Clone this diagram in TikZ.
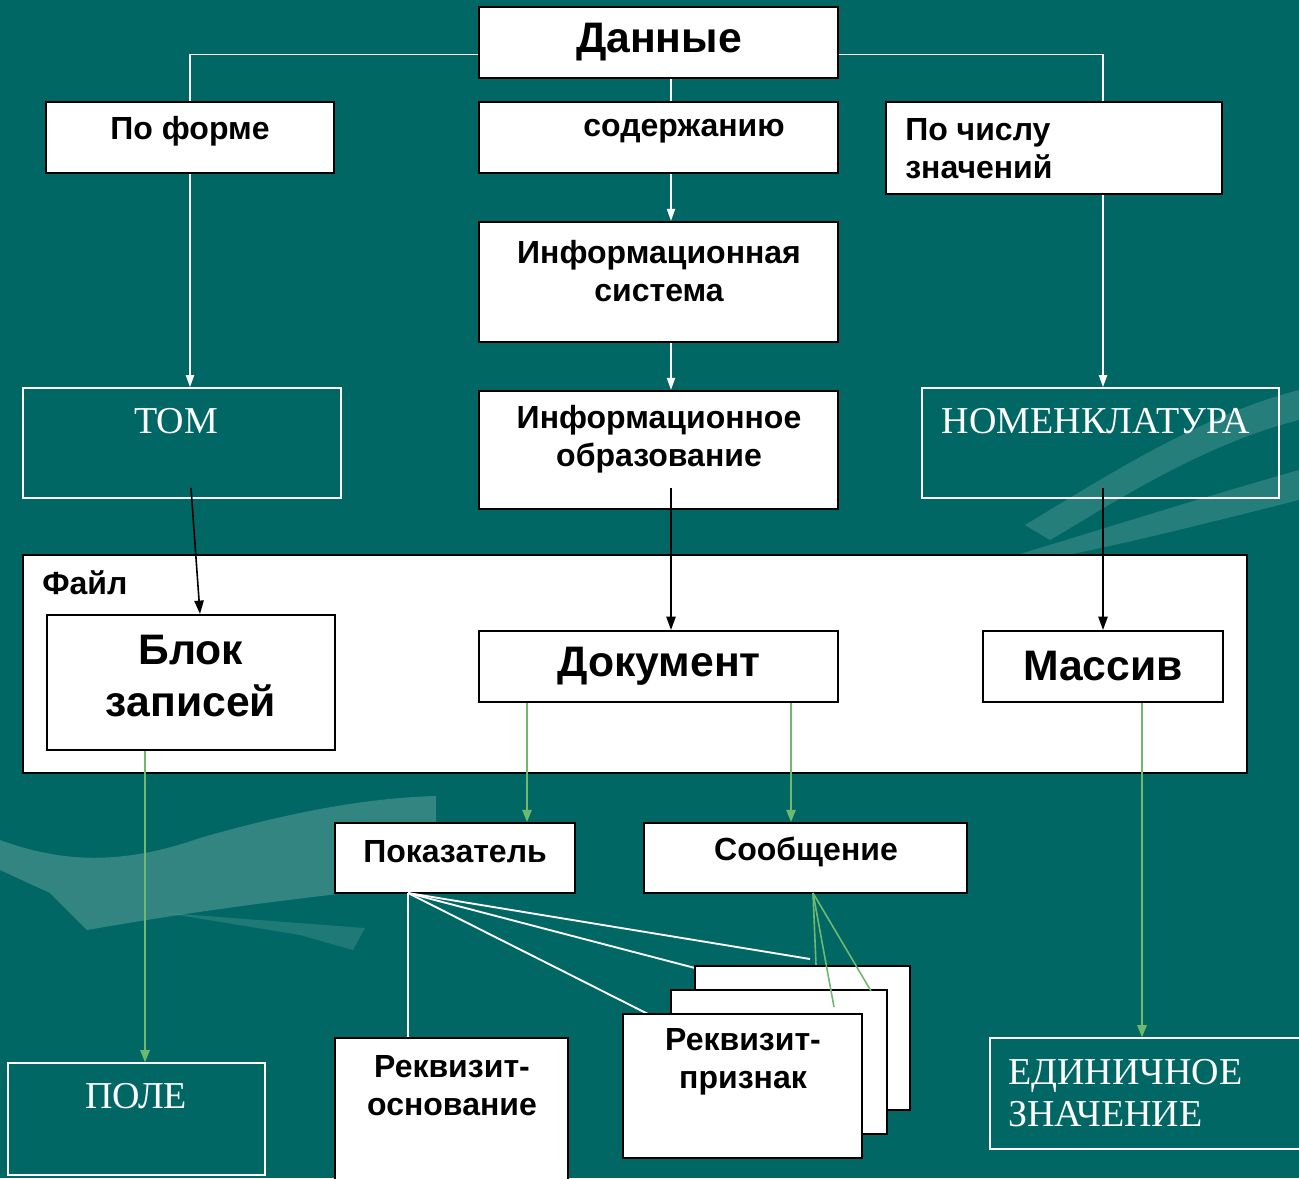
\documentclass[tikz,border=0pt]{standalone}
\usepackage{fontspec}
\setmainfont{Liberation Sans}
\newfontfamily\serifru{Liberation Serif}
\usetikzlibrary{arrows.meta,calc,fit}
\definecolor{teal0}{RGB}{0,103,101}
\definecolor{swoosh}{RGB}{125,180,172}
\definecolor{linkgreen}{RGB}{110,185,110}

\begin{document}
\begin{tikzpicture}[x=0.75pt,y=0.75pt,yscale=-1,xscale=1,
  blk/.style={draw=black, fill=white, line width=1.6pt, inner sep=0pt},
  hollow/.style={draw=white, line width=1.2pt, inner sep=0pt},
  lbl/.style={font=\bfseries\fontsize{24}{28.5}\selectfont, align=center, inner sep=0pt},
  biglbl/.style={font=\bfseries\fontsize{32}{39}\selectfont, align=center, inner sep=0pt},
  serlbl/.style={font=\serifru\fontsize{28.5}{32}\selectfont, text=white, align=center, inner sep=0pt},
  wline/.style={white, line width=1.4pt},
  warrow/.style={wline, -{Triangle[length=9pt,width=6pt]}},
  karrow/.style={black, line width=1.2pt, -{Triangle[length=10pt,width=7pt]}},
  garrow/.style={linkgreen, line width=1.2pt, -{Triangle[length=9pt,width=7pt]}},
  gline/.style={linkgreen, line width=1.2pt}]

% background
\fill[teal0] (0,0) rectangle (1299,1178);
\useasboundingbox (0,0) rectangle (1299,1178);
\fill[swoosh, opacity=0.4] (0,840) .. controls (60,862) and (120,866) .. (200,838) .. controls (280,815) and (360,798) .. (436,796) -- (436,883) .. controls (330,895) and (230,905) .. (87,930) -- (50,893) -- (0,870) -- cycle;
\fill[swoosh, opacity=0.25] (166,913) -- (365,928) -- (353,950) -- (300,935) -- cycle;
\fill[swoosh, opacity=0.3] (1025,525) .. controls (1100,480) and (1200,415) .. (1299,390) -- (1299,420) .. controls (1200,445) and (1110,505) .. (1050,540) -- cycle;
\fill[swoosh, opacity=0.3] (1000,560) .. controls (1100,530) and (1200,498) .. (1299,470) -- (1299,500) .. controls (1200,525) and (1100,550) .. (1040,560) -- cycle;

% columns for connectors
\coordinate (midcol) at (671,0);
\coordinate (rcol) at (1103,0);
\coordinate (lgcol) at (145,0);
\coordinate (dgcolA) at (527,0);
\coordinate (dgcolB) at (791,0);
\coordinate (mgcol) at (1142,0);
\coordinate (fan) at (408,893);
\coordinate (fanend) at (810,959);
\coordinate (soobfan) at (813,893);

% top level
\node[blk, fit={(479,7) (838,78)}] (data) {};
\node[blk, fit={(46,102) (334,173)}] (form) {};
\node[blk, fit={(479,102) (838,173)}] (content) {};
\node[blk, fit={(886,102) (1222,194)}] (count) {};
\node[blk, fit={(479,222) (838,342)}] (infsys) {};
\node[blk, fit={(479,391) (838,509)}] (infobr) {};
\node[hollow, fit={(23,388) (341,498)}] (tom) {};
\node[hollow, fit={(922,388) (1279,498)}] (nomen) {};

\node[biglbl] (data-t) at (659,42) {Данные};
\node[lbl] (form-t) at (190,131) {По форме};
\node[lbl] (content-t) at (684,131) {содержанию};
\node[lbl, align=left, anchor=west] (count-t) at (905,149) {По числу\\значений};
\node[lbl] (infsys-t) at (659,271) {Информационная\\система};
\node[lbl] (infobr-t) at (659,439) {Информационное\\образование};
\node[serlbl] (tom-t) at (176,421) {ТОМ};
\node[serlbl] (nomen-t) at (1096,421) {НОМЕНКЛАТУРА};

% file
\node[blk, fit={(23,555) (1247,773)}] (file) {};
\node[lbl, anchor=west] (file-t) at (42,583) {Файл};
\node[blk, fit={(47,615) (335,750)}] (block) {};
\node[blk, fit={(479,631) (838,702)}] (doc) {};
\node[blk, fit={(983,631) (1223,702)}] (massiv) {};
\node[biglbl] (block-t) at (191,676) {Блок\\записей};
\node[biglbl] (doc-t) at (659,666) {Документ};
\node[biglbl] (massiv-t) at (1103,666) {Массив};

% lower level
\node[blk, fit={(335,823) (575,893)}] (pokaz) {};
\node[blk, fit={(644,823) (967,893)}] (soob) {};
\node[lbl] (pokaz-t) at (455,852) {Показатель};
\node[lbl] (soob-t) at (806,852) {Сообщение};

\draw[wline] (fan) -- (fanend);
\draw[wline] (fan) -- (695,968);
\draw[wline] (fan) -- (648,1014);

\node[blk, fit={(335,1038) (568,1190)}] (rekvosn) {};
\node[blk, fit={(695,966) (910,1110)}] (cardA) {};
\node[blk, fit={(671,990) (887,1134)}] (cardB) {};
\node[blk, fit={(623,1014) (862,1158)}] (cardC) {};
\node[lbl] (rekvosn-t) at (452,1086) {Реквизит-\\основание};
\node[lbl] (cardC-t) at (743,1062) {Реквизит-\\признак};

\node[hollow, fit={(8,1063) (265,1175)}] (pole) {};
\node[serlbl] (pole-t) at (136,1096) {ПОЛЕ};
\node[hollow, fit={(990,1038) (1310,1149)}] (edin) {};
\node[serlbl, align=left, anchor=west] (edin-t) at (1008,1093) {ЕДИНИЧНОЕ\\ЗНАЧЕНИЕ};

% white connectors
\draw[wline] ([yshift=9pt]data.west) -| (form.north);
\draw[wline] ([yshift=9pt]data.east) -| (count.north -| rcol);
\draw[wline] (data.south -| midcol) -- (content.north -| midcol);
\draw[warrow] (content.south -| midcol) -- (infsys.north -| midcol);
\draw[warrow] (infsys.south -| midcol) -- (infobr.north -| midcol);
\draw[warrow] (form.south) -- (tom.north -| form.south);
\draw[warrow] (count.south -| rcol) -- (nomen.north -| rcol);
\draw[wline] (fan) -- (rekvosn.north -| fan);

% black connectors
\draw[karrow] ($(tom.south)+(9,-11)$) -- ($(block.north)+(9,0)$);
\draw[karrow] ($(infobr.south -| midcol)+(0,-22)$) -- (doc.north -| midcol);
\draw[karrow] ($(nomen.south -| rcol)+(0,-11)$) -- (massiv.north -| rcol);

% green connectors
\draw[garrow] (block.south -| lgcol) -- (pole.north -| lgcol);
\draw[garrow] (doc.south -| dgcolA) -- (pokaz.north -| dgcolA);
\draw[garrow] (doc.south -| dgcolB) -- (soob.north -| dgcolB);
\draw[garrow] (massiv.south -| mgcol) -- (edin.north -| mgcol);
\draw[gline] (soobfan) -- (cardA.north -| 816,0);
\draw[gline] (soobfan) -- (834,1007);
\draw[gline] (soobfan) -- (871,991);

\end{tikzpicture}
\end{document}
